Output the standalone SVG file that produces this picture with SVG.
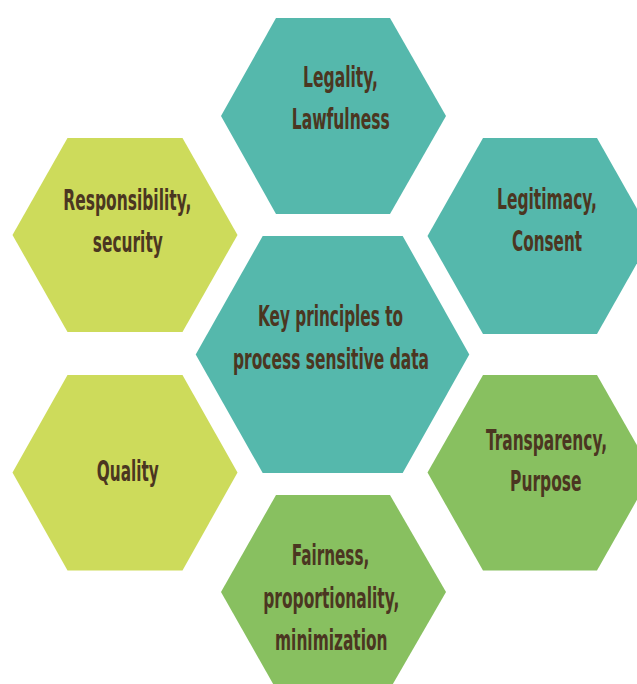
<svg xmlns="http://www.w3.org/2000/svg" width="637" height="684" viewBox="0 0 637 684">
<style>
.teal{fill:#55B8AC}
.lime{fill:#CDDB5B}
.green{fill:#88C060}
text{font-family:"Liberation Sans Narrow","DejaVu Sans Condensed","Liberation Sans",sans-serif;font-weight:bold;font-size:29px;fill:#4B3621;text-anchor:middle}
</style>
<rect width="637" height="684" fill="#ffffff"/>
<g id="node-legality">
<polygon class="teal" points="221,116 276,18 390,18 446,116 390,214 276,214"/>
<text x="340.5" y="87" textLength="75" lengthAdjust="spacingAndGlyphs">Legality,</text>
<text x="340.8" y="129" textLength="98" lengthAdjust="spacingAndGlyphs">Lawfulness</text>
</g>
<g id="node-responsibility">
<polygon class="lime" points="12.5,235 67.5,138 182.5,138 237.5,235 182.5,332 67.5,332"/>
<text x="127.3" y="210" textLength="128" lengthAdjust="spacingAndGlyphs">Responsibility,</text>
<text x="127.8" y="251.5" textLength="70" lengthAdjust="spacingAndGlyphs">security</text>
</g>
<g id="node-legitimacy">
<polygon class="teal" points="427.5,236 483,138 597,138 652.5,236 597,334 483,334"/>
<text x="547" y="209.3" textLength="100" lengthAdjust="spacingAndGlyphs">Legitimacy,</text>
<text x="547" y="250.7" textLength="70" lengthAdjust="spacingAndGlyphs">Consent</text>
</g>
<g id="node-center">
<polygon class="teal" points="195.7,354.5 262.7,236 402.7,236 469.3,354.5 402.7,473 262.7,473"/>
<text x="330.5" y="325.7" textLength="145" lengthAdjust="spacingAndGlyphs">Key principles to</text>
<text x="331" y="369" textLength="196" lengthAdjust="spacingAndGlyphs">process sensitive data</text>
</g>
<g id="node-quality">
<polygon class="lime" points="12.5,472.5 67.5,375 182.5,375 237.5,472.5 182.5,570.5 67.5,570.5"/>
<text x="127.8" y="480.7" textLength="62" lengthAdjust="spacingAndGlyphs">Quality</text>
</g>
<g id="node-transparency">
<polygon class="green" points="427.5,472.5 483,375 597,375 652.5,472.5 597,570.5 483,570.5"/>
<text x="546.5" y="450" textLength="121" lengthAdjust="spacingAndGlyphs">Transparency,</text>
<text x="545.8" y="490.7" textLength="71.5" lengthAdjust="spacingAndGlyphs">Purpose</text>
</g>
<g id="node-fairness">
<polygon class="green" points="221,592 276,495 390,495 446,592 390,689 276,689"/>
<text x="330.5" y="565" textLength="77.5" lengthAdjust="spacingAndGlyphs">Fairness,</text>
<text x="331.3" y="607.7" textLength="136" lengthAdjust="spacingAndGlyphs">proportionality,</text>
<text x="331.3" y="650" textLength="112.5" lengthAdjust="spacingAndGlyphs">minimization</text>
</g>
</svg>
